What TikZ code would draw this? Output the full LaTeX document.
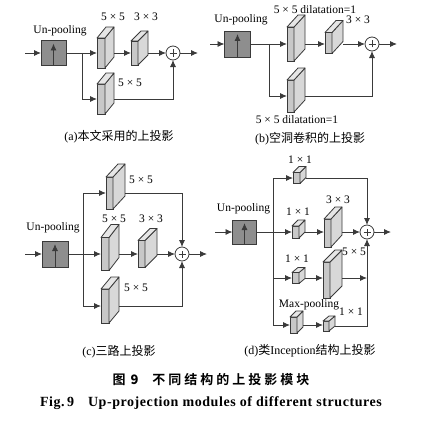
\documentclass[tikz,border=0pt]{standalone}
\usepackage{fontspec}
\setmainfont{Liberation Serif}
\newfontfamily\cjk{Noto Sans CJK SC}
\newfontfamily\cjkb{Noto Sans CJK SC Bold}
\newfontfamily\figfont[LetterSpace=4]{Liberation Serif Bold}
\usetikzlibrary{arrows.meta}
\definecolor{lc}{HTML}{3A3A3A}
\definecolor{fr}{HTML}{C8C8C8}
\definecolor{sd}{HTML}{D8D8D8}
\definecolor{tp}{HTML}{E6E6E6}
\definecolor{ub}{HTML}{8E8E8E}
\tikzset{
  ln/.style={draw=lc, line width=0.9pt},
  ar/.style={ln, -{Latex[length=7pt,width=6pt]}},
  face/.style={draw=lc, line width=0.8pt, fill=fr, inner sep=0pt, outer sep=0pt},
  sideface/.style={draw=lc, line width=0.8pt, fill=sd, line join=round},
  topface/.style={draw=lc, line width=0.8pt, fill=tp, line join=round},
  upbox/.style={draw=lc, line width=0.9pt, fill=ub, inner sep=0pt, outer sep=0pt},
  plusnode/.style={circle, draw=lc, line width=0.8pt, fill=white, minimum size=14pt, inner sep=0pt, outer sep=0pt},
  lbl/.style={font=\fontsize{11.5}{12}\selectfont, inner sep=0pt},
  captxt/.style={font=\fontsize{12}{13}\selectfont, inner sep=0pt},
}
% name, left x, row y, w, h, dx, dy
\newcommand\cub[7]{%
  \node[face, minimum width=#4pt, minimum height=#5pt, anchor=west] (#1) at (#2,#3) {};
  \draw[sideface] (#1.north east) -- ++(#6pt,#7pt) -- ++(0,-#5pt) -- (#1.south east) -- cycle;
  \draw[topface] (#1.north west) -- ++(#6pt,#7pt) -- ++(#4pt,0) -- (#1.north east) -- cycle;
  \coordinate (#1-o) at ([xshift=#6pt]#1.east);
}
\newcommand\unpool[4]{% name, cx, cy, w/h
  \node[upbox, minimum width=#4pt, minimum height=#4pt] (#1) at (#2,#3) {};
  \draw[ar] (#1.south) -- ([yshift=-3pt]#1.north);
}
\newcommand\plusn[3]{%
  \node[plusnode] (#1) at (#2,#3) {};
  \draw[lc, line width=0.5pt] ([xshift=-3.5pt]#1.center) -- ([xshift=3.5pt]#1.center)
    ([yshift=-3.5pt]#1.center) -- ([yshift=3.5pt]#1.center);
}
\begin{document}
\begin{tikzpicture}[x=1pt,y=-1pt]
\useasboundingbox (0,0) rectangle (433,420);
% ---------------- (a)
\unpool{au}{53.5}{53}{25}
\node[lbl] (aul) at (60,31) {Un-pooling};
\coordinate (ain) at (25,53);
\draw[ar] (ain) -- (au.west);
\cub{a1}{97}{53}{8}{30}{9}{11}
\cub{a2}{131}{53}{7}{24}{10}{10}
\cub{a3}{97}{99}{8}{30}{9}{11}
\plusn{ap}{173}{53}
\coordinate (aj) at (82,53);
\coordinate (aout) at (198,53);
\draw[ar] (au.east) -- (a1.west);
\draw[ar] (aj) |- (a3.west);
\draw[ar] (a1-o) -- (a2.west);
\draw[ar] (a2-o) -- (ap.west);
\draw[ar] (ap.east) -- (aout);
\draw[ar] (a3-o) -| (ap.south);
\node[lbl] (al1) at (113,17) {5 × 5};
\node[lbl] (al2) at (146,17) {3 × 3};
\node[lbl] (al3) at (130,83) {5 × 5};
\node[captxt] (acap) at (119,137) {(a)\cjk 本文采用的上投影};
% ---------------- (b)
\unpool{bu}{237.5}{44}{26}
\node[lbl] (bul) at (241,20) {Un-pooling};
\coordinate (bin) at (210,44);
\draw[ar] (bin) -- (bu.west);
\cub{b1}{287}{44}{7}{34}{11}{12}
\cub{b2}{325}{43}{7}{21}{11}{12}
\cub{b3}{287}{96}{7}{32}{11}{12}
\plusn{bp}{372}{44}
\coordinate (bj) at (269,44);
\coordinate (bout) at (397,44);
\draw[ar] (bu.east) -- (b1.west);
\draw[ar] (bj) |- (b3.west);
\draw[ar] (b1-o) -- (b2.west |- b1-o);
\draw[ar] (b2-o |- bp.west) -- (bp.west);
\draw[ar] (bp.east) -- (bout);
\draw[ar] (b3-o) -| (bp.south);
\node[lbl] (bl1) at (315,10) {5 × 5 dilatation=1};
\node[lbl] (bl2) at (358,20) {3 × 3};
\node[lbl] (bl3) at (297,120) {5 × 5 dilatation=1};
\node[captxt] (bcap) at (310,139) {(b)\cjk 空洞卷积的上投影};
% ---------------- (c)
\unpool{cu}{55}{254}{26}
\node[lbl] (cul) at (53,228) {Un-pooling};
\coordinate (cin) at (25,254);
\draw[ar] (cin) -- (cu.west);
\cub{c1}{106}{193}{7}{32}{12}{13}
\cub{c2}{101}{254}{8}{33}{10}{13}
\cub{c3}{138}{254}{7}{27}{12}{12}
\cub{c4}{101}{306}{8}{34}{10}{12}
\plusn{cp}{182}{254}
\coordinate (cj) at (83,254);
\coordinate (cout) at (207,254);
\draw[ln] (cu.east) -- (cj);
\draw[ar] (cj) |- (c1.west);
\draw[ar] (cj) |- (c4.west);
\draw[ar] (cu.east) -- (c2.west);
\draw[ar] (c2-o) -- (c3.west);
\draw[ar] (c3-o) -- (cp.west);
\draw[ar] (cp.east) -- (cout);
\draw[ar] (c1-o) -| (cp.north);
\draw[ar] (c4-o) -| (cp.south);
\node[lbl] (cl1) at (141,180) {5 × 5};
\node[lbl] (cl2) at (114,219) {5 × 5};
\node[lbl] (cl3) at (151,219) {3 × 3};
\node[lbl] (cl4) at (136,288) {5 × 5};
\node[captxt] (ccap) at (119,352) {(c)\cjk 三路上投影};
% ---------------- (d)
\unpool{du}{244.5}{232}{24}
\node[lbl] (dul) at (243.5,209) {Un-pooling};
\coordinate (din) at (215,232);
\draw[ar] (din) -- (du.west);
\cub{d1}{293}{178}{7}{11}{6}{6}
\cub{d2}{292}{232}{7}{12}{6}{6}
\cub{d3}{324}{233}{7}{28}{11}{12}
\cub{d4}{292}{278}{7}{11}{6}{5}
\cub{d5}{323}{280}{7}{36}{12}{12}
\cub{d6}{290}{325}{7}{16}{6}{6}
\cub{d7}{323}{326}{6}{10}{6}{5}
\plusn{dp}{367}{232}
\coordinate (dj) at (273,232);
\coordinate (dout) at (391,232);
\coordinate (dv) at (367,278);
\draw[ln] (du.east) -- (dj);
\draw[ar] (dj) |- (d1.west);
\draw[ar] (dj) |- (d4.west);
\draw[ar] (dj) |- (d6.west);
\draw[ar] (du.east) -- (d2.west);
\draw[ar] (d2-o) -- (d3.west |- d2-o);
\draw[ar] (d3-o |- dp.west) -- (dp.west);
\draw[ar] (dp.east) -- (dout);
\draw[ar] (d1-o) -| (dp.north);
\draw[ar] (d4-o) -- (d5.west |- d4-o);
\draw[ar] (d5-o |- dv) -- (dv);
\draw[ar] (d6-o) -- (d7.west |- d6-o);
\draw[ar] (d7-o) -| (dp.south);
\node[lbl] (dl1) at (300,160) {1 × 1};
\node[lbl] (dl2) at (298,212) {1 × 1};
\node[lbl] (dl3) at (338,200) {3 × 3};
\node[lbl] (dl4) at (297,259) {1 × 1};
\node[lbl] (dl5) at (354,252) {5 × 5};
\node[lbl] (dl6) at (309,305) {Max-pooling};
\node[lbl] (dl7) at (351,312) {1 × 1};
\node[captxt] (dcap) at (310,351) {(d)\cjk 类\normalfont Inception\cjk 结构上投影};
% ---------------- titles
\node[inner sep=0pt, font=\fontsize{13}{14}\selectfont] (t1) at (211,380)
  {\cjkb 图\hspace{5pt}\textbf{9}\hspace{14pt}不\hspace{3pt}同\hspace{3pt}结\hspace{3pt}构\hspace{3pt}的\hspace{3pt}上\hspace{3pt}投\hspace{3pt}影\hspace{3pt}模\hspace{3pt}块};
\node[inner sep=0pt, font=\fontsize{14}{15}\figfont] (t2) at (211,403)
  {Fig.\,9\hspace{14pt}Up-projection modules of different structures};
\end{tikzpicture}
\end{document}
